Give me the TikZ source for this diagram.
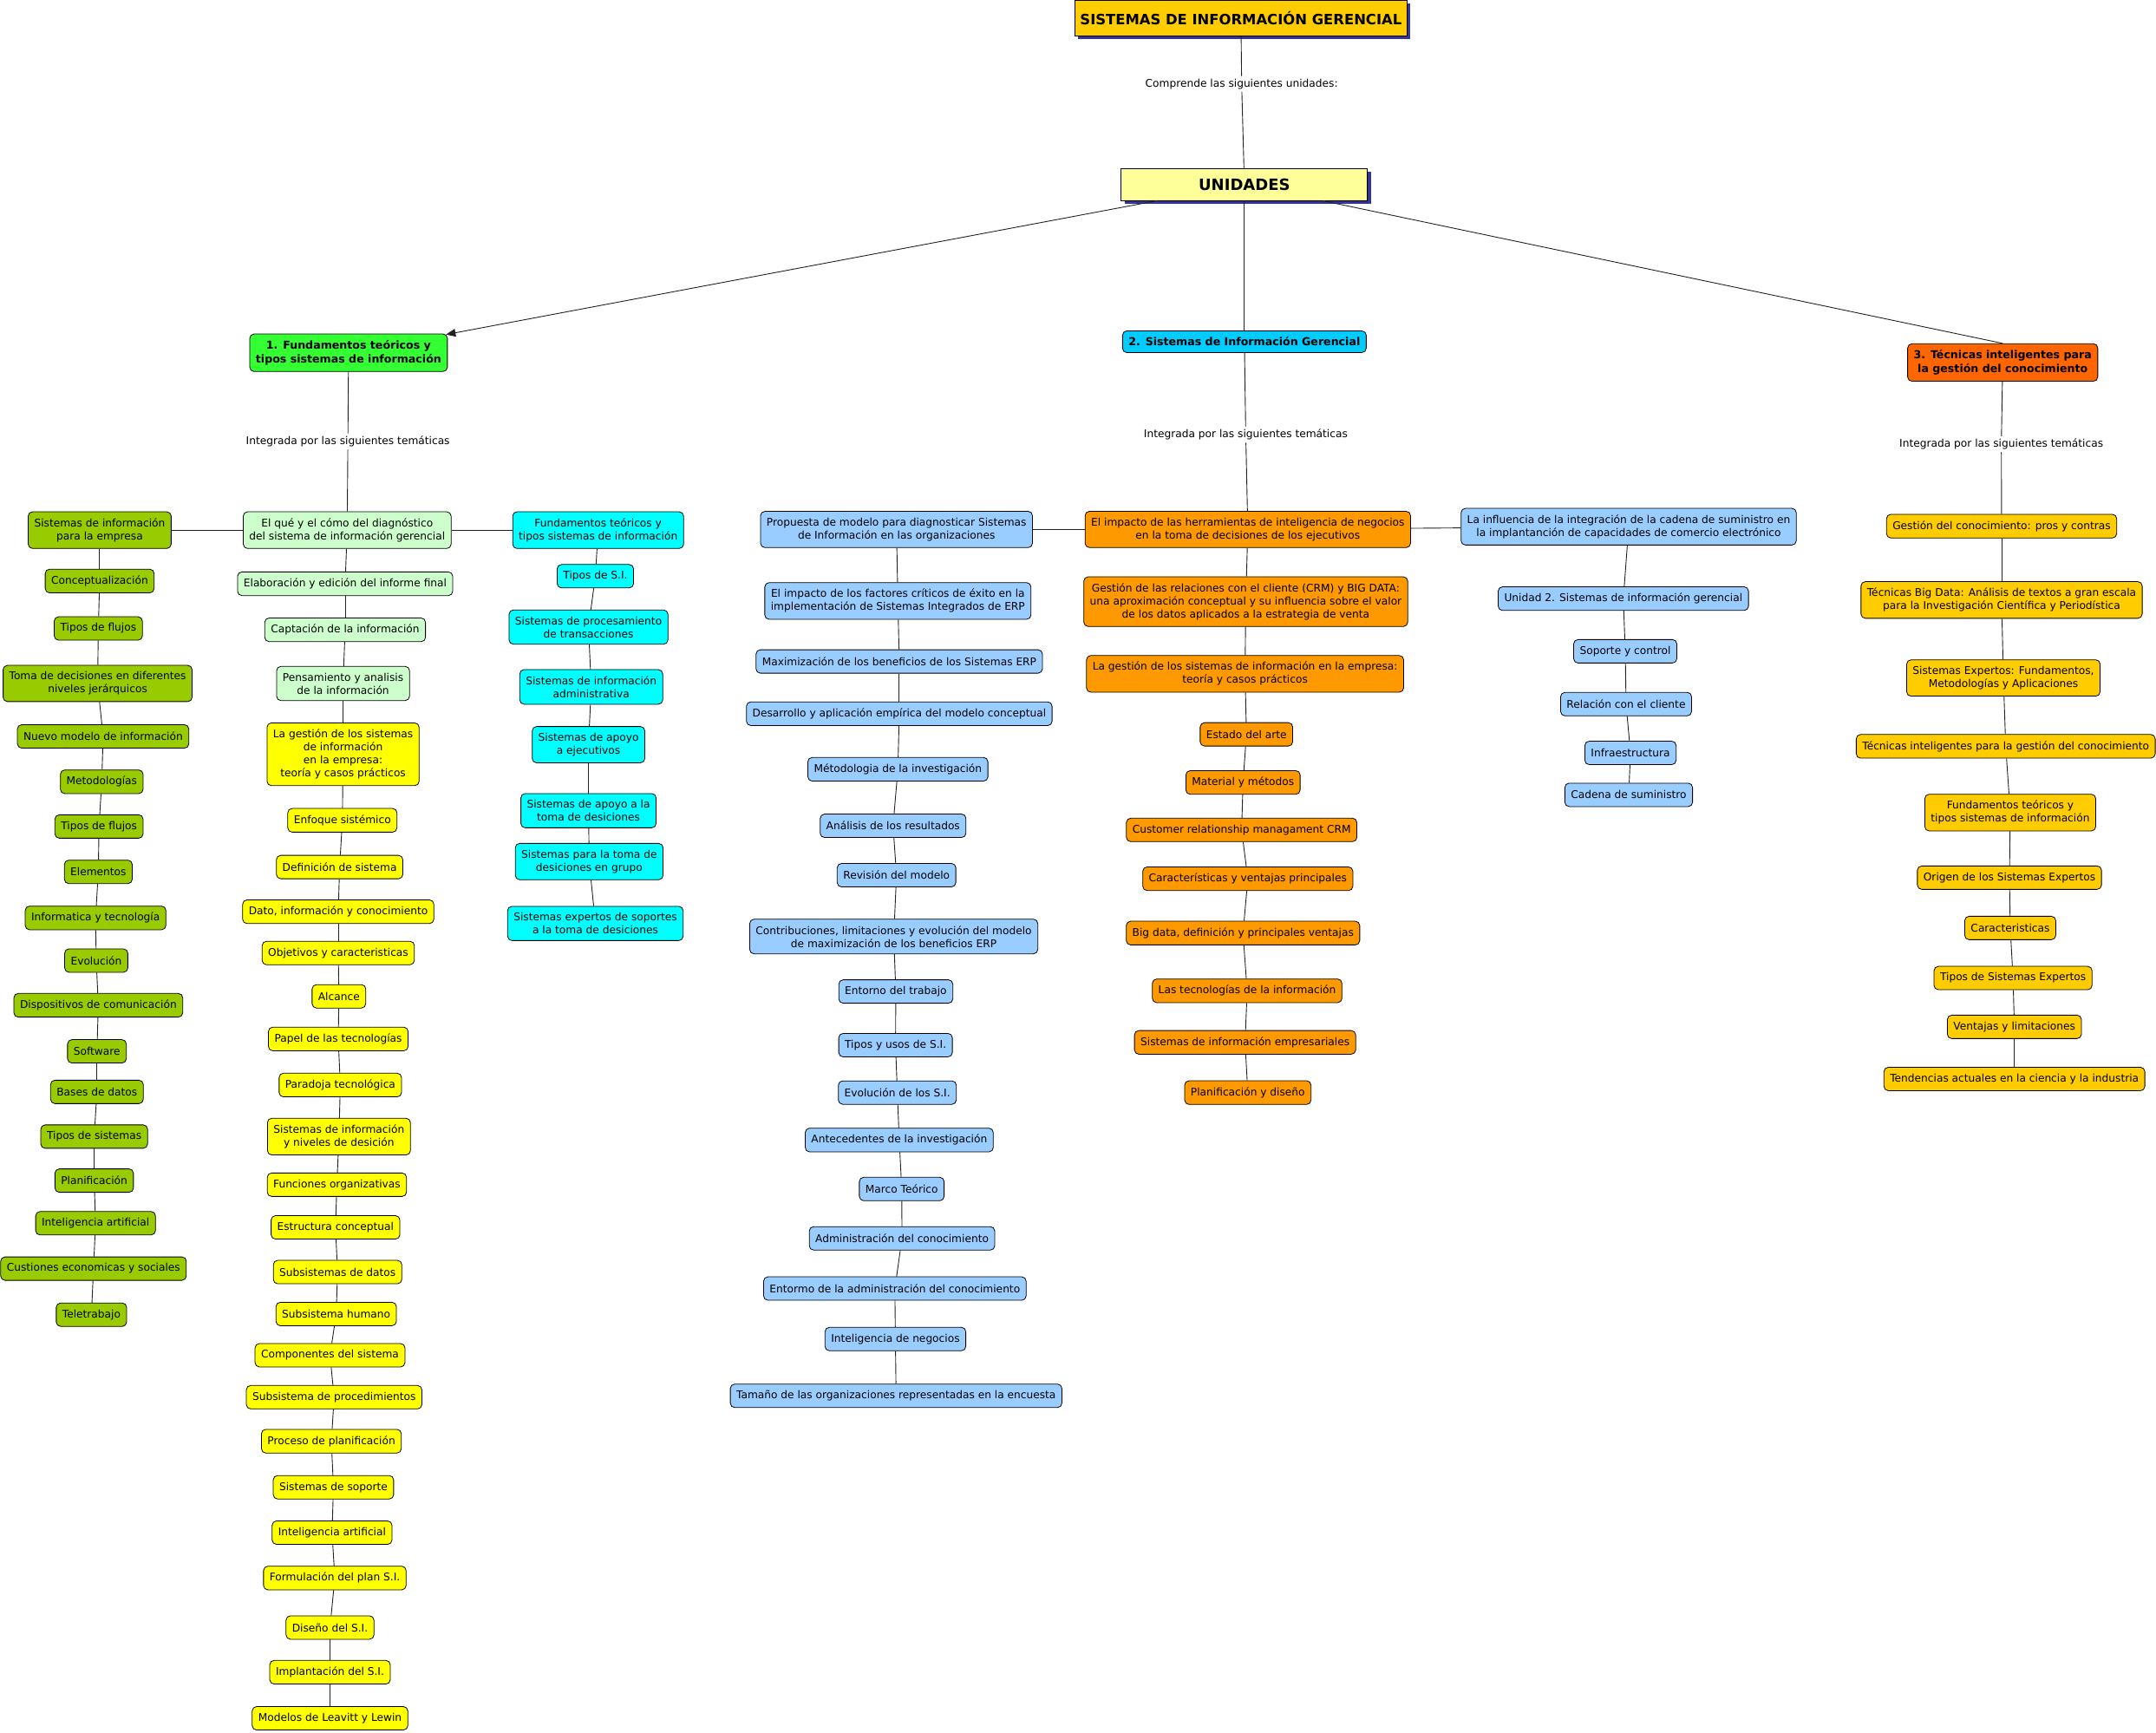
\documentclass[tikz,border=0pt]{standalone}
\usepackage{fontspec}
\setmainfont{DejaVu Sans}
\usetikzlibrary{arrows.meta,shadows}
\definecolor{cGold}{HTML}{FFCC00}
\definecolor{cPaleY}{HTML}{FFFF99}
\definecolor{cGreen}{HTML}{33FF33}
\definecolor{cSky}{HTML}{00CCFF}
\definecolor{cRed}{HTML}{FF6600}
\definecolor{cOlive}{HTML}{99CC00}
\definecolor{cMint}{HTML}{CCFFCC}
\definecolor{cYel}{HTML}{FFFF00}
\definecolor{cCyan}{HTML}{00FFFF}
\definecolor{cBlue}{HTML}{99CCFF}
\definecolor{cOrange}{HTML}{FF9900}
\definecolor{cShadow}{HTML}{333399}
\definecolor{cLine}{HTML}{222222}
\newcommand\nfont{\fontsize{12.2}{15}\selectfont}
\newcommand\bfont{\fontsize{12.6}{15.5}\selectfont\bfseries}
\begin{document}
\begin{tikzpicture}[x=1.5855pt,y={(0pt,-1.5855pt)},
  box/.style={draw=black, rounded corners=5pt, line width=0.8pt, align=center,
    inner xsep=7pt, inner ysep=7.5pt, minimum height=27pt, font=\nfont},
  olive/.style={box, fill=cOlive},
  mint/.style={box, fill=cMint},
  yel/.style={box, fill=cYel},
  cyanb/.style={box, fill=cCyan},
  blueb/.style={box, fill=cBlue},
  orab/.style={box, fill=cOrange},
  goldb/.style={box, fill=cGold},
  unit/.style={box, font=\bfont},
  lab/.style={font=\nfont, inner sep=3pt},
  con/.style={draw=cLine, line width=0.9pt},
  titlebox/.style={draw=black, line width=0.8pt, align=center, inner sep=4pt,
    drop shadow={shadow xshift=4pt, shadow yshift=-4pt, fill=cShadow, opacity=1}}
]
\useasboundingbox (0,0) rectangle (1568,1260);

% top
\node[titlebox, fill=cGold, minimum width=383pt, minimum height=41pt, font=\fontsize{16.4}{19}\selectfont\bfseries] (top) at (902.5,13) {SISTEMAS DE INFORMACIÓN GERENCIAL};
\node[lab] (ltop) at (903,61) {Comprende las siguientes unidades:};
\node[titlebox, fill=cPaleY, minimum width=284pt, minimum height=37pt, font=\fontsize{18}{21}\selectfont\bfseries] (unid) at (905,134) {UNIDADES};

% units
\node[unit, fill=cGreen] (n1) at (253.5,256.5) {1. Fundamentos teóricos y\\tipos sistemas de información};
\node[unit, fill=cSky, inner ysep=3pt, minimum height=25pt] (n2) at (905,248.5) {2. Sistemas de Información Gerencial};
\node[unit, fill=cRed] (n3) at (1456.5,263.6) {3. Técnicas inteligentes para\\la gestión del conocimiento};

\node[lab] (l1) at (253,321) {Integrada por las siguientes temáticas};
\node[lab] (l2) at (906,316) {Integrada por las siguientes temáticas};
\node[lab] (l3) at (1455.5,323) {Integrada por las siguientes temáticas};

% column A
\node[olive] (a1) at (72.5,385.5) {Sistemas de información\\para la empresa};
\node[olive] (a2) at (72.5,422.5) {Conceptualización};
\node[olive] (a3) at (71.5,457) {Tipos de flujos};
\node[olive] (a4) at (71,497) {Toma de decisiones en diferentes\\niveles jerárquicos};
\node[olive] (a5) at (75,535.5) {Nuevo modelo de información};
\node[olive] (a6) at (74,568.5) {Metodologías};
\node[olive] (a7) at (72,601) {Tipos de flujos};
\node[olive] (a8) at (71.5,634) {Elementos};
\node[olive] (a9) at (69.5,667.5) {Informatica y tecnología};
\node[olive] (a10) at (70,698.5) {Evolución};
\node[olive] (a11) at (71.5,731) {Dispositivos de comunicación};
\node[olive] (a12) at (70.5,764.5) {Software};
\node[olive] (a13) at (70.5,794) {Bases de datos};
\node[olive] (a14) at (68.5,826.5) {Tipos de sistemas};
\node[olive] (a15) at (68.5,858.5) {Planificación};
\node[olive] (a16) at (69.5,889.5) {Inteligencia artificial};
\node[olive] (a17) at (68,922.5) {Custiones economicas y sociales};
\node[olive] (a18) at (66.5,956) {Teletrabajo};

% column B
\node[mint] (b1) at (252.5,385.5) {El qué y el cómo del diagnóstico\\del sistema de información gerencial};
\node[mint] (b2) at (251,424.5) {Elaboración y edición del informe final};
\node[mint] (b3) at (251,458) {Captación de la información};
\node[mint] (b4) at (249.5,497) {Pensamiento y analisis\\de la información};
\node[yel] (b5) at (249.5,548.5) {La gestión de los sistemas\\de información\\en la empresa:\\teoría y casos prácticos};
\node[yel] (b6) at (249,596.5) {Enfoque sistémico};
\node[yel] (b7) at (247,630.5) {Definición de sistema};
\node[yel] (b8) at (246,663) {Dato, información y conocimiento};
\node[yel] (b9) at (246,693) {Objetivos y caracteristicas};
\node[yel] (b10) at (246.5,724.5) {Alcance};
\node[yel] (b11) at (246,755.5) {Papel de las tecnologías};
\node[yel] (b12) at (247.5,789) {Paradoja tecnológica};
\node[yel] (b13) at (246.5,826.5) {Sistemas de información\\y niveles de desición};
\node[yel] (b14) at (245,861.5) {Funciones organizativas};
\node[yel] (b15) at (244,892.5) {Estructura conceptual};
\node[yel] (b16) at (245.5,925) {Subsistemas de datos};
\node[yel] (b17) at (244.5,955.5) {Subsistema humano};
\node[yel] (b18) at (240,985.5) {Componentes del sistema};
\node[yel] (b19) at (243,1016) {Subsistema de procedimientos};
\node[yel] (b20) at (241,1048) {Proceso de planificación};
\node[yel] (b21) at (242.5,1081.5) {Sistemas de soporte};
\node[yel] (b22) at (241.5,1114.5) {Inteligencia artificial};
\node[yel] (b23) at (243.5,1147.5) {Formulación del plan S.I.};
\node[yel] (b24) at (240,1183.5) {Diseño del S.I.};
\node[yel] (b25) at (240,1216) {Implantación del S.I.};
\node[yel] (b26) at (240,1249.5) {Modelos de Leavitt y Lewin};

% column C
\node[cyanb] (c1) at (435,385.5) {Fundamentos teóricos y\\tipos sistemas de información};
\node[cyanb] (c2) at (433,419) {Tipos de S.I.};
\node[cyanb] (c3) at (428,456) {Sistemas de procesamiento\\de transacciones};
\node[cyanb] (c4) at (430,499.5) {Sistemas de información\\administrativa};
\node[cyanb] (c5) at (428,541.5) {Sistemas de apoyo\\a ejecutivos};
\node[cyanb] (c6) at (428,589.5) {Sistemas de apoyo a la\\toma de desiciones};
\node[cyanb] (c7) at (428.5,626.5) {Sistemas para la toma de\\desiciones en grupo};
\node[cyanb] (c8) at (433,671.5) {Sistemas expertos de soportes\\a la toma de desiciones};

% column D
\node[blueb] (d1) at (652,385) {Propuesta de modelo para diagnosticar Sistemas\\de Información en las organizaciones};
\node[blueb] (d2) at (653,437) {El impacto de los factores críticos de éxito en la\\implementación de Sistemas Integrados de ERP};
\node[blueb] (d3) at (654,481) {Maximización de los beneficios de los Sistemas ERP};
\node[blueb] (d4) at (654,519) {Desarrollo y aplicación empírica del modelo conceptual};
\node[blueb] (d5) at (653,559.4) {Métodologia de la investigación};
\node[blueb] (d6) at (649.5,600.5) {Análisis de los resultados};
\node[blueb] (d7) at (652,636.4) {Revisión del modelo};
\node[blueb] (d8) at (650,681) {Contribuciones, limitaciones y evolución del modelo\\de maximización de los beneficios ERP};
\node[blueb] (d9) at (651.5,721) {Entorno del trabajo};
\node[blueb] (d10) at (651.3,760) {Tipos y usos de S.I.};
\node[blueb] (d11) at (652.6,794.5) {Evolución de los S.I.};
\node[blueb] (d12) at (654,829) {Antecedentes de la investigación};
\node[blueb] (d13) at (655.8,864.6) {Marco Teórico};
\node[blueb] (d14) at (656,900.5) {Administración del conocimiento};
\node[blueb] (d15) at (650.8,937) {Entormo de la administración del conocimiento};
\node[blueb] (d16) at (651.2,973.7) {Inteligencia de negocios};
\node[blueb] (d17) at (651.7,1015) {Tamaño de las organizaciones representadas en la encuesta};

% column E
\node[orab] (e1) at (907.5,385) {El impacto de las herramientas de inteligencia de negocios\\en la toma de decisiones de los ejecutivos};
\node[orab] (e2) at (906,437.5) {Gestión de las relaciones con el cliente (CRM) y BIG DATA:\\una aproximación conceptual y su influencia sobre el valor\\de los datos aplicados a la estrategia de venta};
\node[orab] (e3) at (905.5,490) {La gestión de los sistemas de información en la empresa:\\teoría y casos prácticos};
\node[orab] (e4) at (906.5,534) {Estado del arte};
\node[orab] (e5) at (904,569) {Material y métodos};
\node[orab] (e6) at (903,603.5) {Customer relationship managament CRM};
\node[orab] (e7) at (907.5,639) {Características y ventajas principales};
\node[orab] (e8) at (904,678.5) {Big data, definición y principales ventajas};
\node[orab] (e9) at (907,720.5) {Las tecnologías de la información};
\node[orab] (e10) at (905.5,758) {Sistemas de información empresariales};
\node[orab] (e11) at (907.5,794.5) {Planificación y diseño};

% column F
\node[blueb] (f1) at (1184.5,383) {La influencia de la integración de la cadena de suministro en\\la implantanción de capacidades de comercio electrónico};
\node[blueb] (f2) at (1180.6,435.3) {Unidad 2. Sistemas de información gerencial};
\node[blueb] (f3) at (1182,473.6) {Soporte y control};
\node[blueb] (f4) at (1182.6,512) {Relación con el cliente};
\node[blueb] (f5) at (1185.8,547.5) {Infraestructura};
\node[blueb] (f6) at (1184.5,578) {Cadena de suministro};

% column G
\node[goldb] (g1) at (1455.7,382.6) {Gestión del conocimiento: pros y contras};
\node[goldb] (g2) at (1455.7,436.3) {Técnicas Big Data: Análisis de textos a gran escala\\para la Investigación Científica y Periodística};
\node[goldb] (g3) at (1457,493) {Sistemas Expertos: Fundamentos,\\Metodologías y Aplicaciones};
\node[goldb] (g4) at (1458.7,542.7) {Técnicas inteligentes para la gestión del conocimiento};
\node[goldb] (g5) at (1462,590.9) {Fundamentos teóricos y\\tipos sistemas de información};
\node[goldb] (g6) at (1461.4,638.2) {Origen de los Sistemas Expertos};
\node[goldb] (g7) at (1462,674.8) {Caracteristicas};
\node[goldb] (g8) at (1464,711.2) {Tipos de Sistemas Expertos};
\node[goldb] (g9) at (1465,746.7) {Ventajas y limitaciones};
\node[goldb] (g10) at (1465,784.6) {Tendencias actuales en la ciencia y la industria};

% connectors
\draw[con] (top) -- (ltop);
\draw[con] (ltop) -- (unid);
\draw[con, -{Triangle[length=11pt,width=9pt]}] (unid) -- ([xshift=-2pt,yshift=-1pt]n1.north east);
\draw[con] (unid) -- (n2);
\draw[con] (unid) -- (n3.north);
\draw[con] (n1) -- (l1);
\draw[con] (l1) -- (b1);
\draw[con] (n2) -- (l2);
\draw[con] (l2) -- (e1);
\draw[con] (n3) -- (l3);
\draw[con] (l3) -- (g1);
\draw[con] (b1) -- (a1);
\draw[con] (b1) -- (c1);
\draw[con] (e1) -- (d1);
\draw[con] (e1) -- (f1);
\foreach \i [evaluate=\i as \j using int(\i+1)] in {1,...,17} {\draw[con] (a\i) -- (a\j);}
\foreach \i [evaluate=\i as \j using int(\i+1)] in {1,...,25} {\draw[con] (b\i) -- (b\j);}
\foreach \i [evaluate=\i as \j using int(\i+1)] in {1,...,7} {\draw[con] (c\i) -- (c\j);}
\foreach \i [evaluate=\i as \j using int(\i+1)] in {1,...,16} {\draw[con] (d\i) -- (d\j);}
\foreach \i [evaluate=\i as \j using int(\i+1)] in {1,...,10} {\draw[con] (e\i) -- (e\j);}
\foreach \i [evaluate=\i as \j using int(\i+1)] in {1,...,5} {\draw[con] (f\i) -- (f\j);}
\foreach \i [evaluate=\i as \j using int(\i+1)] in {1,...,9} {\draw[con] (g\i) -- (g\j);}
\end{tikzpicture}
\end{document}
